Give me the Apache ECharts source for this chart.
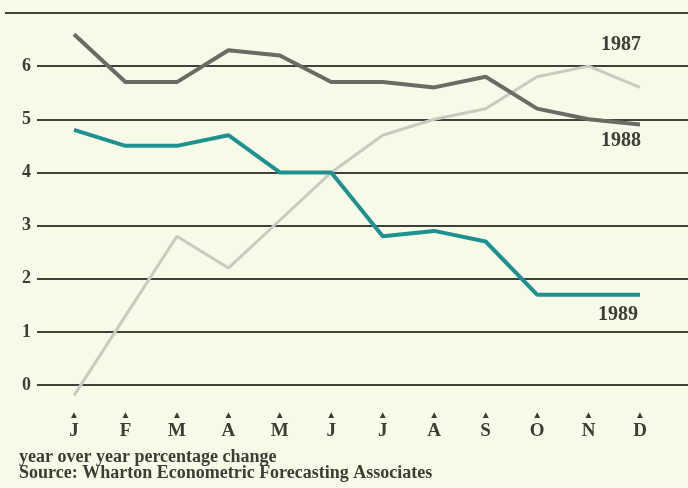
<!DOCTYPE html>
<html>
<head>
<meta charset="utf-8">
<script src="https://cdn.jsdelivr.net/npm/echarts@6/dist/echarts.min.js"></script>
<style>
  html, body { margin: 0; padding: 0; background: #f8fae8; }
  #chart { width: 688px; height: 488px; }
</style>
</head>
<body>
<div id="chart"></div>
<script>
// Month categories and their one-letter tick labels
const months = ['Jan', 'Feb', 'Mar', 'Apr', 'May', 'Jun', 'Jul', 'Aug', 'Sep', 'Oct', 'Nov', 'Dec'];
const monthLetters = ['J', 'F', 'M', 'A', 'M', 'J', 'J', 'A', 'S', 'O', 'N', 'D'];

// Year-over-year percentage change, by month
const y1987 = [-0.2, 1.3, 2.8, 2.2, 3.1, 4.0, 4.7, 5.0, 5.2, 5.8, 6.0, 5.6];
const y1988 = [6.6, 5.7, 5.7, 6.3, 6.2, 5.7, 5.7, 5.6, 5.8, 5.2, 5.0, 4.9];
const y1989 = [4.8, 4.5, 4.5, 4.7, 4.0, 4.0, 2.8, 2.9, 2.7, 1.7, 1.7, 1.7];

// Value axis ticks
const yTicks = [0, 1, 2, 3, 4, 5, 6];
const yMin = 0, yMax = 7, yStep = 1;

const serif = '"Liberation Serif", "DejaVu Serif", serif';
const inkColor = '#3a3f35';
const ruleColor = '#3f423b';

const chart = echarts.init(document.getElementById('chart'), null, { renderer: 'canvas' });

function yearLabel(offset) {
  return {
    show: true,
    formatter: '{a}',
    position: 'inside',
    offset: offset,
    fontFamily: serif,
    fontWeight: 'bold',
    fontSize: 20,
    color: inkColor,
    align: 'center',
    verticalAlign: 'middle'
  };
}

chart.setOption({
  backgroundColor: '#f8fae8',
  animation: false,
  graphic: [{
    type: 'line',
    shape: { x1: 5, y1: 13, x2: 688, y2: 13 },
    style: { stroke: ruleColor, lineWidth: 2 },
    z: 0
  }],
  grid: [
    { left: 37, right: 0, top: 13, bottom: 103 },
    { left: 74, right: 48, top: 13, bottom: 103 }
  ],
  xAxis: [
    { gridIndex: 0, type: 'category', data: months, show: false },
    {
      gridIndex: 1,
      type: 'category',
      data: months,
      boundaryGap: false,
      axisLine: { show: false },
      axisTick: { show: false },
      axisLabel: {
        margin: 25,
        interval: 0,
        formatter: function (v, i) { return '{t|\u25B2}\n{m|' + monthLetters[i] + '}'; },
        rich: {
          t: { fontSize: 10, color: inkColor, lineHeight: 10, align: 'center' },
          m: { fontFamily: serif, fontWeight: 'bold', fontSize: 19, color: inkColor, lineHeight: 22, align: 'center' }
        }
      }
    }
  ],
  yAxis: [
    {
      gridIndex: 0,
      type: 'value',
      min: yMin,
      max: yMax,
      interval: yStep,
      axisLine: { show: false },
      axisTick: { show: false },
      splitLine: { lineStyle: { color: ruleColor, width: 2 } },
      axisLabel: {
        margin: 6,
        formatter: function (v) { return yTicks.indexOf(v) >= 0 ? String(v) : ''; },
        fontFamily: serif,
        fontWeight: 'bold',
        fontSize: 18,
        color: inkColor
      }
    },
    {
      gridIndex: 1,
      type: 'value',
      min: yMin,
      max: yMax,
      interval: yStep,
      show: false
    }
  ],
  series: [
    {
      name: '1987',
      type: 'line',
      xAxisIndex: 1,
      yAxisIndex: 1,
      data: y1987,
      clip: false,
      symbol: 'none',
      lineStyle: { color: '#c8cbbf', width: 3 },
      endLabel: yearLabel([-27, -43]),
      z: 2
    },
    {
      name: '1988',
      type: 'line',
      xAxisIndex: 1,
      yAxisIndex: 1,
      data: y1988,
      clip: false,
      symbol: 'none',
      lineStyle: { color: '#6a6b64', width: 4 },
      endLabel: yearLabel([-27, 16]),
      z: 3
    },
    {
      name: '1989',
      type: 'line',
      xAxisIndex: 1,
      yAxisIndex: 1,
      data: y1989,
      clip: false,
      symbol: 'none',
      lineStyle: { color: '#1f9190', width: 4 },
      endLabel: yearLabel([-30, 20]),
      z: 4
    }
  ],
  title: {
    text: 'year over year percentage change\nSource: Wharton Econometric Forecasting Associates',
    left: 19,
    top: 449,
    padding: 0,
    textStyle: {
      fontFamily: serif,
      fontWeight: 'bold',
      fontSize: 18,
      lineHeight: 16,
      color: inkColor
    }
  }
});
</script>
</body>
</html>
